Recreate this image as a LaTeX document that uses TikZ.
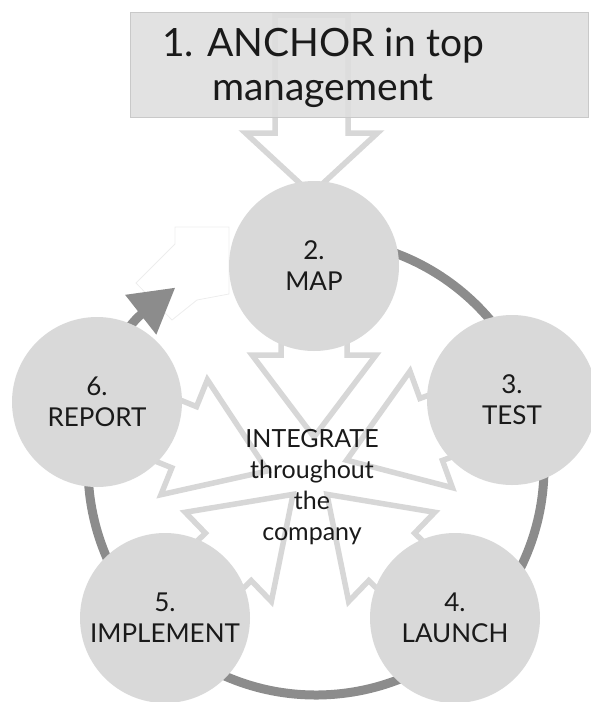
\documentclass[tikz,border=0pt]{standalone}
\usepackage{fontspec}
\setmainfont{Lato}
\usetikzlibrary{arrows.meta}

\definecolor{stagefill}{HTML}{D9D9D9}
\definecolor{flowline}{HTML}{D7D7D7}
\definecolor{loopline}{HTML}{8C8C8C}
\definecolor{boxfill}{HTML}{DEDEDE}
\definecolor{boxline}{HTML}{C9C9C9}
\definecolor{inktext}{HTML}{1A1A1A}
\definecolor{ghostline}{HTML}{EDEDED}

\pgfdeclarelayer{back}
\pgfsetlayers{back,main}

% block arrow: origin, direction, shoulder distance, tip distance, shaft half width, head half width
\newcommand\blockarrow[6]{%
  \begin{scope}[shift={(#1)}, rotate=#2]
    \draw[flow] (0,-#5) -- (#3,-#5) -- (#3,-#6) -- (#4,0) -- (#3,#6) -- (#3,#5) -- (0,#5) -- cycle;
  \end{scope}}

\begin{document}
\begin{tikzpicture}[x=1pt,y=1pt,
  stage/.style={circle, fill=stagefill, minimum size=170pt, inner sep=0pt,
    align=center, text=inktext, font=\fontsize{26}{31}\selectfont},
  flow/.style={draw=flowline, line width=5.5pt, fill=white, line join=miter},
  loopring/.style={draw=loopline, line width=9pt,
    -{Triangle[length=44pt,width=48pt]}},
  anchorbox/.style={rectangle, fill=boxfill, fill opacity=0.88, draw=boxline,
    line width=0.8pt, minimum width=458pt, minimum height=105pt, inner sep=0pt},
  headline/.style={align=center, text=inktext, inner sep=0pt,
    font=\fontsize{39}{44}\selectfont},
  hubtext/.style={align=center, text=inktext, inner sep=0pt,
    font=\fontsize{25}{31}\selectfont},
]
\useasboundingbox (0,0) rectangle (591,-702);

% top box
\node[anchorbox] (anchor) at (359,-64.5) {};
\node[headline] (anchortext) at (323,-68) {1. ANCHOR in top\\management};

% the five stages
\node[stage] (map)       at (314,-266) {2.\\MAP};
\node[stage] (test)      at (512,-400) {3.\\TEST};
\node[stage] (launch)    at (455,-618) {4.\\LAUNCH};
\node[stage] (implement) at (165,-618) {5.\\IMPLEMENT};
\node[stage] (report)    at (97,-402)  {6.\\REPORT};

% centre label
\node[hubtext] (integrate) at (312,-487) {INTEGRATE\\throughout\\the\\company};

\coordinate (hub) at (316,-467);
\coordinate (drop) at (311.5,-15);

\begin{pgfonlayer}{back}
  % faint leftover outline beside the cycle arrow
  \draw[ghostline, line width=0.8pt]
    (175,-227) -- (229,-227) -- (229,-294) -- (197,-300) -- (172,-320)
    -- (136,-283) -- (175,-244) -- cycle;

  % the cycle ring
  \draw[loopring] (hub) ++(95:228) arc[start angle=95, end angle=-231.9, radius=228];

  % arrow from the top box into MAP
  \blockarrow{drop}{-90}{118}{179}{36.5}{66}

  % arrows from every stage into the centre
  \blockarrow{map.center}{-90}{89}{171}{33}{62}
  \blockarrow{report.center}{-22}{94}{184}{33}{62}
  \blockarrow{test.center}{200}{86}{176}{33}{62}
  \blockarrow{implement.center}{44}{88}{178}{33}{62}
  \blockarrow{launch.center}{136}{88}{178}{33}{62}
\end{pgfonlayer}
\end{tikzpicture}
\end{document}
